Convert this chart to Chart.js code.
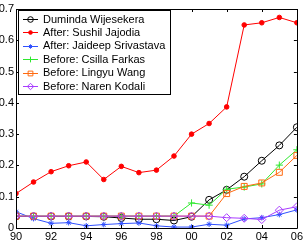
<!DOCTYPE html>
<html>
<head>
<meta charset="utf-8">
<script src="https://cdn.jsdelivr.net/npm/chart.js@4.4.0/dist/chart.umd.min.js"></script>
<style>
  html, body { margin: 0; padding: 0; background: #fff; }
</style>
</head>
<body>
<canvas id="chart" width="305" height="242"></canvas>
<script>
const years = [1990, 1991, 1992, 1993, 1994, 1995, 1996, 1997, 1998, 1999, 2000, 2001, 2002, 2003, 2004, 2005, 2006];
const seriesNames = ['Duminda Wijesekera', 'After: Sushil Jajodia', 'After: Jaideep Srivastava',
                     'Before: Csilla Farkas', 'Before: Lingyu Wang', 'Before: Naren Kodali'];
const duminda = [0.037, 0.037, 0.037, 0.037, 0.037, 0.036, 0.032, 0.028, 0.028, 0.024, 0.036, 0.090, 0.122, 0.164, 0.215, 0.264, 0.322];
const jajodia = [0.110, 0.147, 0.180, 0.199, 0.211, 0.155, 0.197, 0.177, 0.185, 0.230, 0.300, 0.334, 0.387, 0.649, 0.656, 0.673, 0.656];
const srivastava = [0.052, 0.030, 0.015, 0.017, 0.007, 0.011, 0.014, 0.016, 0.007, 0.003, 0.003, 0.012, 0.009, 0.029, 0.033, 0.043, 0.058];
const farkas = [0.038, 0.038, 0.038, 0.038, 0.038, 0.038, 0.038, 0.038, 0.038, 0.038, 0.080, 0.073, 0.124, 0.131, 0.141, 0.201, 0.250];
const wang = [0.038, 0.038, 0.038, 0.038, 0.038, 0.038, 0.038, 0.038, 0.038, 0.038, 0.038, 0.038, 0.110, 0.133, 0.144, 0.178, 0.232];
const kodali = [0.038, 0.038, 0.038, 0.038, 0.038, 0.038, 0.038, 0.038, 0.038, 0.038, 0.038, 0.038, 0.033, 0.031, 0.027, 0.057, 0.068];
const yTicks = [0, 0.1, 0.2, 0.3, 0.4, 0.5, 0.6, 0.7];

const FONT = { family: 'Liberation Sans, Arial, sans-serif', size: 11 };

function pts(vals) {
    return vals.map((v, i) => ({ x: years[i], y: v }));
}

// colour, marker, radius
const styles = [
    ['#000000', 'circle', 3.5, 'rgba(0,0,0,0)'],
    ['#ff0000', 'circle', 2.3, '#ff0000'],
    ['#3050ff', 'star', 2.8, 'rgba(0,0,0,0)'],
    ['#2ee82e', 'cross', 3.6, 'rgba(0,0,0,0)'],
    ['#ff6a10', 'rect', 4.2, 'rgba(0,0,0,0)'],
    ['#a83cff', 'rectRot', 4, 'rgba(0,0,0,0)']
];
const allValues = [duminda, jajodia, srivastava, farkas, wang, kodali];

const datasets = allValues.map((vals, i) => ({
    label: seriesNames[i],
    data: pts(vals),
    borderColor: styles[i][0],
    backgroundColor: styles[i][3],
    pointBorderColor: styles[i][0],
    pointBackgroundColor: styles[i][3],
    pointStyle: styles[i][1],
    pointRadius: styles[i][2],
    borderWidth: 1,
    pointBorderWidth: 1,
    tension: 0,
    order: 6 - i
}));

// MATLAB style box with inward ticks
const frame = {
    id: 'frame',
    afterDraw(chart) {
        const ctx = chart.ctx;
        const a = chart.chartArea;
        const xs = chart.scales.x, ys = chart.scales.y;
        ctx.save();
        ctx.strokeStyle = '#000';
        ctx.lineWidth = 1;
        ctx.beginPath();
        ctx.rect(Math.round(a.left) + 0.5, Math.round(a.top) + 0.5,
                 Math.round(a.right - a.left), Math.round(a.bottom - a.top));
        for (let yr = 1990; yr <= 2006; yr += 2) {
            const px = Math.round(xs.getPixelForValue(yr)) + 0.5;
            ctx.moveTo(px, a.top); ctx.lineTo(px, a.top + 3);
            ctx.moveTo(px, a.bottom); ctx.lineTo(px, a.bottom - 3);
        }
        yTicks.forEach(t => {
            const py = Math.round(ys.getPixelForValue(t)) + 0.5;
            ctx.moveTo(a.left, py); ctx.lineTo(a.left + 3, py);
            ctx.moveTo(a.right, py); ctx.lineTo(a.right - 3, py);
        });
        ctx.stroke();
        ctx.restore();
    }
};

const legendBox = {
    id: 'legendBox',
    afterDraw(chart) {
        const ctx = chart.ctx;
        const a = chart.chartArea;
        const x0 = a.left + 2, y0 = a.top + 1, w = 152, h = 84;
        ctx.save();
        ctx.fillStyle = '#fff';
        ctx.fillRect(x0, y0, w, h);
        ctx.strokeStyle = '#000';
        ctx.lineWidth = 1;
        ctx.strokeRect(Math.round(x0) + 0.5, Math.round(y0) + 0.5, w, h);
        ctx.font = FONT.size + 'px ' + FONT.family;
        ctx.textBaseline = 'middle';
        chart.data.datasets.forEach((ds, i) => {
            const y = y0 + 9 + i * 13.4;
            ctx.strokeStyle = ds.borderColor;
            ctx.beginPath();
            ctx.moveTo(x0 + 5, Math.round(y) + 0.5);
            ctx.lineTo(x0 + 20, Math.round(y) + 0.5);
            ctx.stroke();
            ctx.fillStyle = ds.pointBackgroundColor;
            Chart.helpers.drawPoint(ctx, {
                pointStyle: ds.pointStyle,
                radius: ds.pointRadius * 0.8,
                rotation: 0,
                borderWidth: 1
            }, x0 + 12.5, Math.round(y) + 0.5);
            ctx.fillStyle = '#000';
            ctx.fillText(ds.label, x0 + 25, y + 0.5);
        });
        ctx.restore();
    }
};

new Chart(document.getElementById('chart'), {
    type: 'line',
    data: { datasets: datasets },
    options: {
        responsive: false,
        animation: false,
        layout: { padding: { top: 9, right: 8, left: 0, bottom: 0 } },
        plugins: { legend: { display: false }, tooltip: { enabled: false } },
        scales: {
            x: {
                type: 'linear',
                min: 1990,
                max: 2006,
                border: { display: false },
                grid: { drawOnChartArea: false, drawTicks: false },
                ticks: {
                    stepSize: 2,
                    padding: 2,
                    color: '#000',
                    font: FONT,
                    maxRotation: 0,
                    callback: v => String(v % 100).padStart(2, '0')
                },
                afterFit: s => { s.height = 14; }
            },
            y: {
                min: 0,
                max: 0.7,
                border: { display: false },
                grid: { drawOnChartArea: false, drawTicks: false },
                ticks: {
                    stepSize: 0.1,
                    padding: 2,
                    color: '#000',
                    font: FONT,
                    callback: v => v === 0 ? '0' : v.toFixed(1)
                },
                afterFit: s => { s.width = 16; }
            }
        }
    },
    plugins: [frame, legendBox]
});
</script>
</body>
</html>
